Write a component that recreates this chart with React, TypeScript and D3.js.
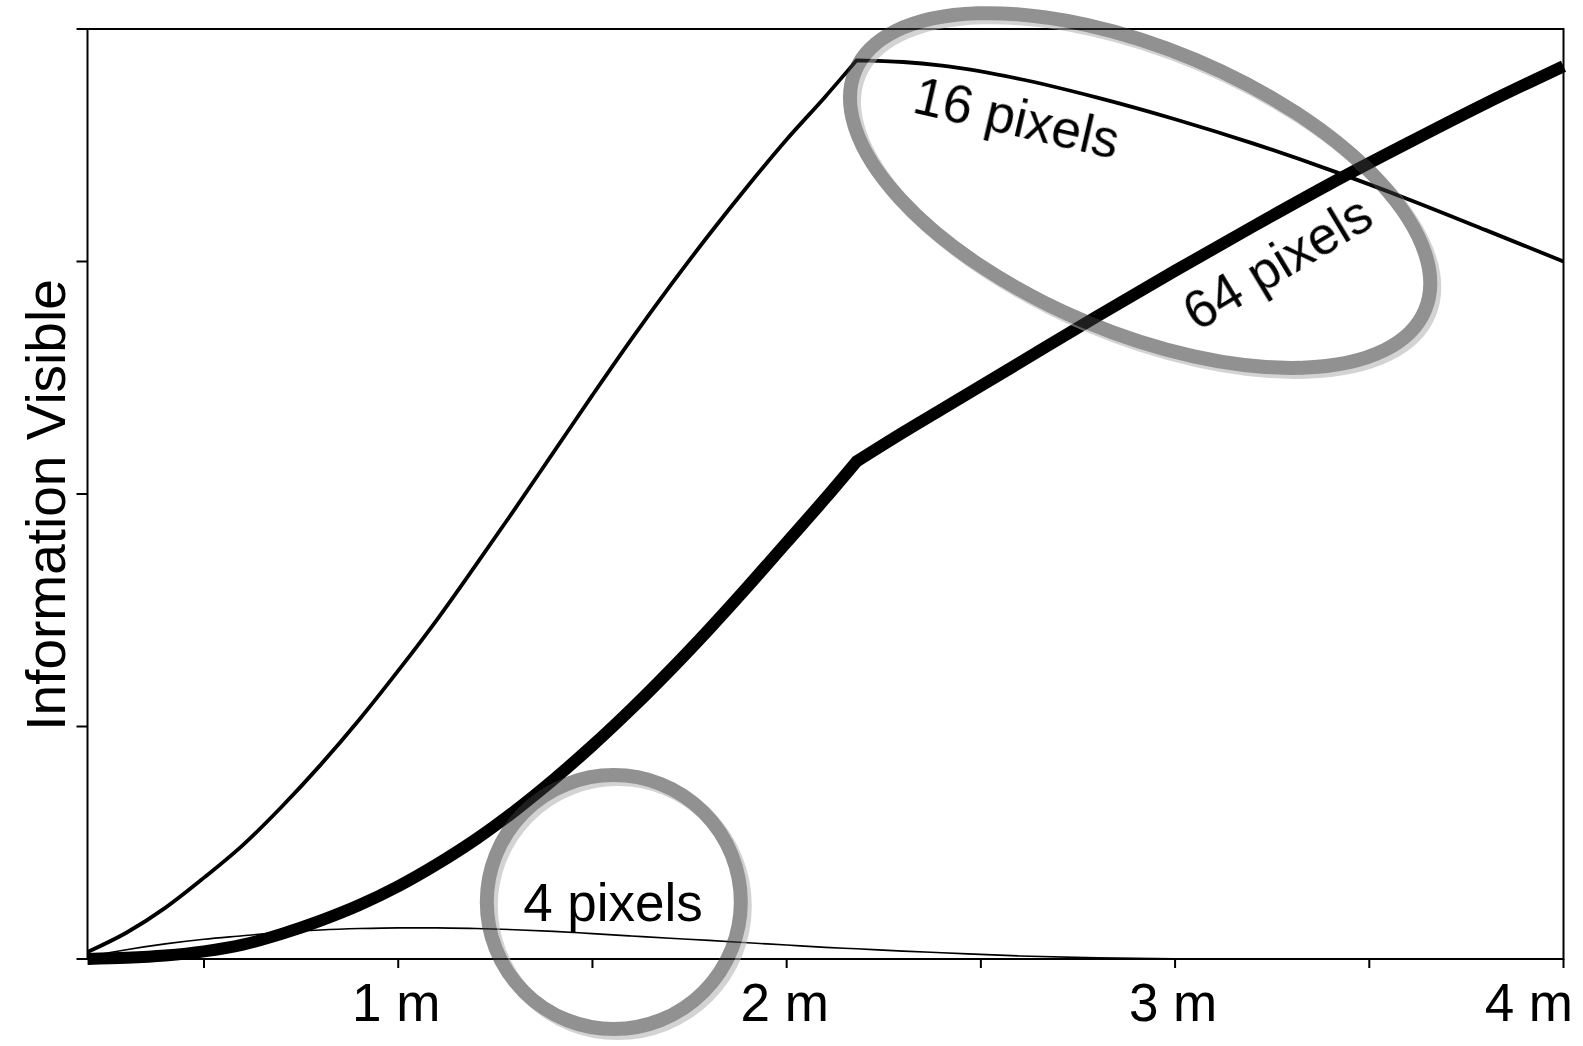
import React from 'react';
import * as d3 from 'd3';

// ---- data ----
const distances = [0.2, 0.3, 0.4, 0.5, 0.6, 0.7, 0.8, 0.9, 1.0, 1.1, 1.2, 1.3, 1.4, 1.5, 1.6, 1.7, 1.8, 1.9, 2.0, 2.1, 2.18, 2.3, 2.4, 2.6, 2.8, 3.0, 3.2, 3.4, 3.6, 3.8, 4.0];
const info16 = [0.03, 0.113, 0.22, 0.35, 0.49, 0.655, 0.835, 1.03, 1.24, 1.46, 1.695, 1.935, 2.18, 2.425, 2.665, 2.895, 3.115, 3.325, 3.525, 3.71, 3.865, 3.858, 3.842, 3.785, 3.705, 3.612, 3.508, 3.393, 3.268, 3.135, 3.0];
const info64 = [0.0, 0.005, 0.015, 0.033, 0.062, 0.108, 0.165, 0.232, 0.313, 0.408, 0.515, 0.637, 0.772, 0.918, 1.075, 1.242, 1.418, 1.602, 1.792, 1.982, 2.14, 2.265, 2.365, 2.565, 2.765, 2.96, 3.15, 3.335, 3.51, 3.68, 3.84];
const info4 = [0.01, 0.04, 0.065, 0.085, 0.1, 0.115, 0.125, 0.131, 0.134, 0.134, 0.131, 0.126, 0.119, 0.109, 0.099, 0.089, 0.08, 0.07, 0.06, 0.05, 0.044, 0.034, 0.027, 0.013, 0.005, 0.001, 0, 0, 0, 0, 0];
const breakDistance = 2.18;
const xTickValues = [0.5, 1, 1.5, 2, 2.5, 3, 3.5, 4];
const xTickLabels = ['', '1 m', '', '2 m', '', '3 m', '', '4 m'];
const yTickValues = [0, 1, 2, 3, 4];
const seriesLabels = ['4 pixels', '16 pixels', '64 pixels'];
const yAxisTitle = 'Information Visible';

const W = 1583;
const H = 1046;
const left = 87.5, right = 1563.5, top = 29, bottom = 959;
const FONT = '"Liberation Sans", Arial, Helvetica, sans-serif';

export default function App() {
  const x = d3.scaleLinear().domain([0.2, 4]).range([left, right]);
  const y = d3.scaleLinear().domain([0, 4]).range([bottom, top]);

  const gen = d3.line<[number, number]>().curve(d3.curveMonotoneX);
  const pts = (vals: number[]) => distances.map((d, i) => [x(d), y(vals[i])] as [number, number]);

  const cornerPath = (vals: number[]) => {
    const p = pts(vals);
    const a = p.filter((_, i) => distances[i] <= breakDistance);
    const b = p.filter((_, i) => distances[i] >= breakDistance);
    const pa = gen(a) || '';
    const pb = gen(b) || '';
    return pa + 'L' + pb.slice(1);
  };

  const path16 = cornerPath(info16);
  const path64 = cornerPath(info64);
  const path4 = gen(pts(info4)) || '';

  // annotation rings (centres in data units, radii in px)
  const small = { cx: x(1.555), cy: y(0.245), rx: 127, ry: 127, rot: 0 };
  const big = { cx: x(2.91), cy: y(3.305), rx: 309, ry: 142, rot: 22.8 };
  const rings = [small, big];

  return (
    <svg width={W} height={H} style={{ position: 'absolute', left: 0, top: 0, background: '#fff' }}>
      <rect x={0} y={0} width={W} height={H} fill="#fff" />
      {/* curves */}
      <path d={path4} fill="none" stroke="#000" strokeWidth={1.6} />
      <path d={path16} fill="none" stroke="#000" strokeWidth={3.8} strokeLinejoin="miter" />
      <path d={path64} fill="none" stroke="#000" strokeWidth={12} strokeLinejoin="miter" />

      {/* frame */}
      <rect x={left} y={top} width={right - left} height={bottom - top} fill="none" stroke="#000" strokeWidth={2} />
      {yTickValues.map((v) => (
        <line key={'yt' + v} x1={left - 11} x2={left} y1={y(v)} y2={y(v)} stroke="#000" strokeWidth={2} />
      ))}
      {xTickValues.map((v, i) => (
        <g key={'xt' + v}>
          <line x1={x(v)} x2={x(v)} y1={bottom} y2={bottom + 9} stroke="#000" strokeWidth={2} />
          {xTickLabels[i] && (
            <text
              x={i === xTickValues.length - 1 ? W - 10 : x(v) - 2}
              y={1021}
              textAnchor={i === xTickValues.length - 1 ? 'end' : 'middle'}
              fontFamily={FONT}
              fontSize={53}
              fill="#000"
            >
              {xTickLabels[i]}
            </text>
          )}
        </g>
      ))}
      <text
        transform={`translate(65, 505) rotate(-90)`}
        textAnchor="middle"
        fontFamily={FONT}
        fontSize={55}
        fill="#000"
      >
        {yAxisTitle}
      </text>

      {/* rings */}
      <g opacity={0.55}>
        {rings.map((r, i) => (
          <g key={'ring' + i}>
            <ellipse
              cx={0}
              cy={0}
              rx={r.rx}
              ry={r.ry}
              fill="none"
              stroke="#afafaf"
              strokeWidth={14}
              transform={`translate(${r.cx + 4}, ${r.cy + 4}) rotate(${r.rot})`}
            />
            <ellipse
              cx={0}
              cy={0}
              rx={r.rx}
              ry={r.ry}
              fill="none"
              stroke="#373737"
              strokeWidth={14}
              transform={`translate(${r.cx}, ${r.cy}) rotate(${r.rot})`}
            />
          </g>
        ))}
      </g>

      {/* labels */}
      <text x={613} y={921} textAnchor="middle" fontFamily={FONT} fontSize={53} fill="#000">
        {seriesLabels[0]}
      </text>
      <text transform="translate(1017, 117) rotate(13)" textAnchor="middle" dy="0.35em" fontFamily={FONT} fontSize={53} fill="#000">
        {seriesLabels[1]}
      </text>
      <text transform="translate(1277, 262) rotate(-31)" textAnchor="middle" dy="0.35em" fontFamily={FONT} fontSize={53} fill="#000">
        {seriesLabels[2]}
      </text>
    </svg>
  );
}
